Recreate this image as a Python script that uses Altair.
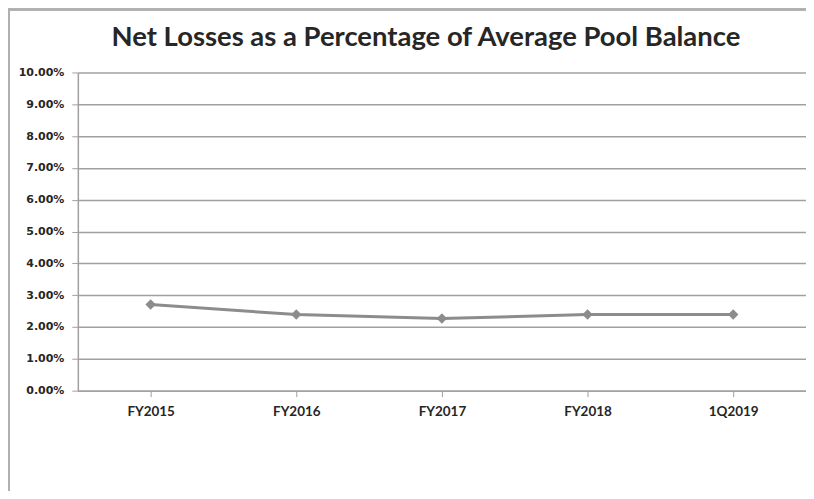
import altair as alt
import pandas as pd

periods = ["FY2015", "FY2016", "FY2017", "FY2018", "1Q2019"]
net_loss_pct = [0.0271, 0.0239, 0.0227, 0.0239, 0.0239]
y_ticks = [0.0, 0.01, 0.02, 0.03, 0.04, 0.05, 0.06, 0.07, 0.08, 0.09, 0.10]

df = pd.DataFrame({"period": periods, "value": net_loss_pct})

x_enc = alt.X(
    "period:N", sort=periods, title=None,
    scale=alt.Scale(paddingInner=0, paddingOuter=0, align=0.5),
    axis=alt.Axis(labelAngle=0, labelFont="Lato", labelFontSize=13.5,
                  labelFontWeight="bold", labelColor="#262626", labelPadding=8,
                  tickSize=6, tickColor="#a0a0a0", domainColor="#a0a0a0",
                  domainWidth=1.5, grid=False, labelOverlap=False),
)
y_enc = alt.Y(
    "value:Q", title=None,
    scale=alt.Scale(domain=[0, 0.1], nice=False),
    axis=alt.Axis(values=y_ticks, format=".2%", labelFont="DejaVu Sans", labelFontSize=11,
                  labelFontWeight="bold", labelColor="#262626", labelPadding=8,
                  labelOverlap=False,
                  tickSize=6, tickColor="#a0a0a0", domainColor="#a0a0a0", domainWidth=1.5,
                  grid=True, gridColor="#a0a0a0", gridWidth=1.5),
)

base = alt.Chart(df).encode(x=x_enc, y=y_enc)
line = base.mark_line(color="#8c8c8c", strokeWidth=3)
pts = base.mark_point(shape="diamond", filled=True, color="#8c8c8c", size=110, opacity=1)

frame_left = alt.Chart(df).mark_rule(color="#b0b0b0", strokeWidth=1.5).encode(
    x=alt.value(-69), y=alt.value(-64), y2=alt.value(440))
frame_top = alt.Chart(df).mark_rule(color="#b0b0b0", strokeWidth=2).encode(
    x=alt.value(-69), x2=alt.value(732), y=alt.value(-63))

chart = alt.layer(frame_left, frame_top, line, pts).properties(
    width=730, height=319,
    autosize=alt.AutoSizeParams(type="none"),
    padding={"left": 70, "top": 64, "right": 0, "bottom": 100},
    title=alt.TitleParams(
        "Net Losses as a Percentage of Average Pool Balance",
        font="Lato", fontSize=27.5, fontWeight="bold", color="#262626",
        anchor="middle", dx=-16, dy=44, offset=0,
    ),
).configure_view(stroke=None)

chart.save("out.html", embed_options={"renderer": "svg", "actions": False})
